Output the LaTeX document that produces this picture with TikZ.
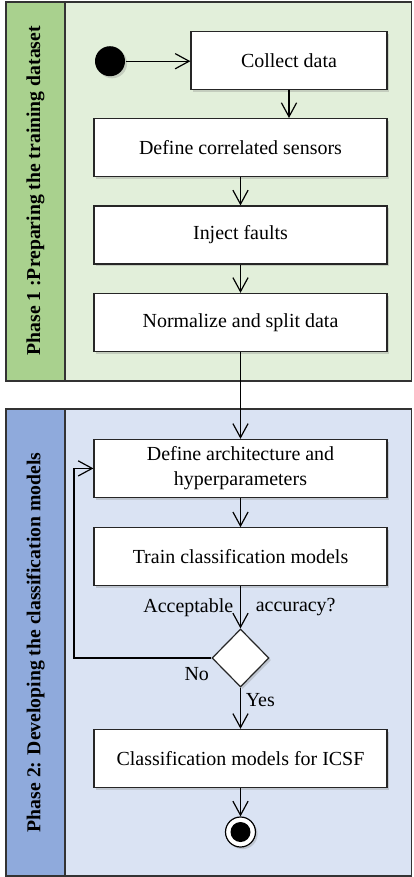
\documentclass[tikz,border=0pt]{standalone}
\usepackage{fontspec}
\setmainfont{Liberation Serif}
\usetikzlibrary{shapes,arrows.meta,shadows,positioning}

\definecolor{phaseonedark}{HTML}{A9D18E}
\definecolor{phaseonelight}{HTML}{E2EFDA}
\definecolor{phasetwodark}{HTML}{8FAADC}
\definecolor{phasetwolight}{HTML}{DAE3F3}

\tikzset{
  box/.style={draw=black!85, fill=white, minimum width=7.325cm, minimum height=1.45cm,
    align=center, drop shadow={shadow xshift=1.5pt, shadow yshift=-1.5pt, opacity=0.3}},
  decision/.style={diamond, draw=black!85, fill=white, minimum width=1.425cm, minimum height=1.45cm,
    inner sep=0pt, drop shadow={shadow xshift=1.5pt, shadow yshift=-1.5pt, opacity=0.3}},
  startnode/.style={circle, fill=black, minimum size=0.75cm, inner sep=0pt,
    drop shadow={shadow xshift=1.5pt, shadow yshift=-1.5pt, opacity=0.3}},
  endnode/.style={circle, draw=black, fill=white, minimum size=0.75cm, inner sep=0pt,
    path picture={\fill[black] (path picture bounding box.center) circle (0.25cm);},
    drop shadow={shadow xshift=1.5pt, shadow yshift=-1.5pt, opacity=0.3}},
  flow/.style={-{Straight Barb[length=3.5mm,width=3.8mm]}},
  phase/.style={rotate=90, font=\fontsize{14}{17}\selectfont\bfseries},
}

\begin{document}
\begin{tikzpicture}[font=\fontsize{14.2}{17.5}\selectfont, line width=0.85pt]
\useasboundingbox (0,0) rectangle (10.325,-21.925);

% phase 1
\draw[draw=black!80, fill=phaseonelight] (1.625,-0.05) rectangle (10.29,-9.525);
\draw[draw=black!80, fill=phaseonedark] (0.15,-0.05) rectangle (1.625,-9.525);
\node[phase] (phaseA) at (0.8875,-4.77) {Phase 1 :Preparing the training dataset};

% phase 2
\draw[draw=black!80, fill=phasetwolight] (1.625,-10.225) rectangle (10.29,-21.9);
\draw[draw=black!80, fill=phasetwodark] (0.15,-10.225) rectangle (1.625,-21.9);
\node[phase] (phaseB) at (0.8875,-16.06) {Phase 2: Developing the classification models};

% activities
\node[startnode] (start) at (2.75,-1.53) {};
\node[box, minimum width=4.9cm] (collect) at (7.225,-1.51) {Collect data};
\node[box] (sensors) at (6.0125,-3.69) {Define correlated sensors};
\node[box] (faults) at (6.0125,-5.875) {Inject faults};
\node[box] (normalize) at (6.0125,-8.06) {Normalize and split data};
\node[box] (arch) at (6.0125,-11.71) {Define architecture and\\hyperparameters};
\node[box] (train) at (6.0125,-13.92) {Train classification models};
\node[decision] (check) at (6.0125,-16.45) {};
\node[box] (icsf) at (6.0125,-18.96) {Classification models for ICSF};
\node[endnode] (stop) at (6.0125,-20.8) {};

\coordinate (loop) at (1.85,-16.45);

% arrows
\draw[flow] (start) -- (collect.west |- start);
\draw[flow] (collect.south) -- (collect.south |- sensors.north);
\draw[flow] (sensors) -- (faults);
\draw[flow] (faults) -- (normalize);
\draw[flow] (normalize) -- (arch);
\draw[flow] (arch) -- (train);
\draw[flow] (train) -- node[left=0.05cm]{Acceptable} node[right=0.25cm]{accuracy?} (check);
\draw[flow] (check.west) -- node[pos=0, below left=3pt and -2pt]{No} (loop) |- (arch.west);
\draw[flow] (check) -- node[pos=0.3, right=0pt]{Yes} (icsf);
\draw[flow] (icsf) -- (stop);

\end{tikzpicture}
\end{document}
